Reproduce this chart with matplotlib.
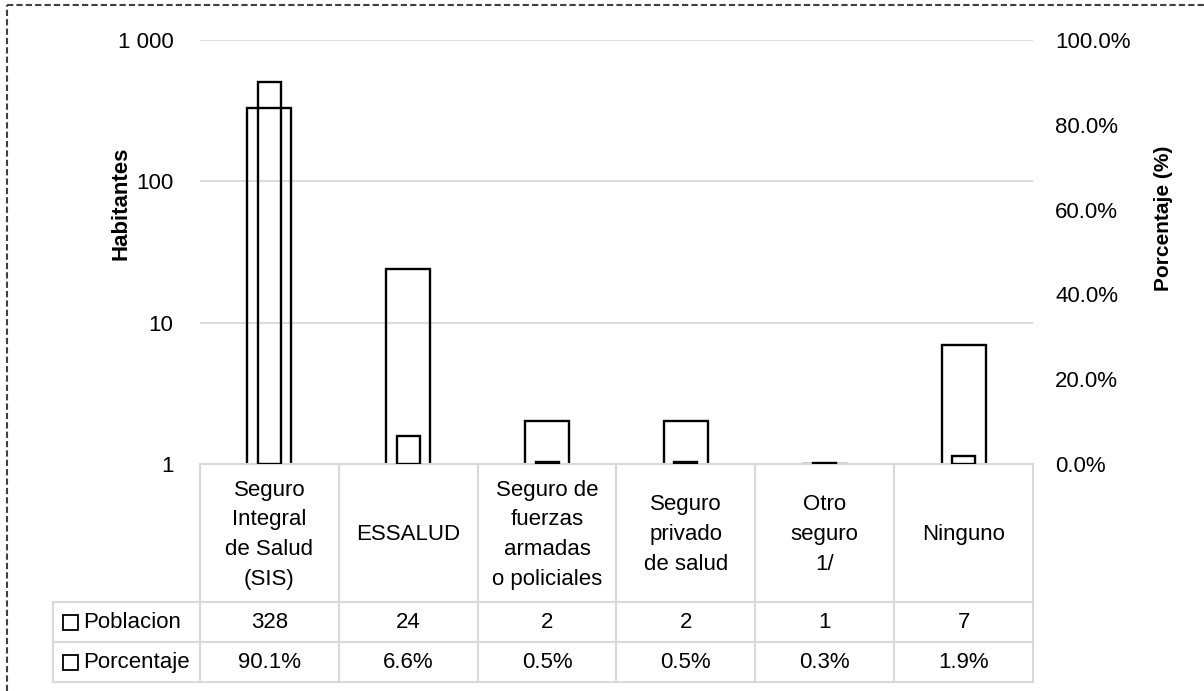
import matplotlib
matplotlib.use("Agg")
import matplotlib.pyplot as plt
import matplotlib.transforms as mtransforms
from matplotlib.patches import Rectangle
from matplotlib.lines import Line2D
import numpy as np

# data
categorias = ["Seguro\nIntegral\nde Salud\n(SIS)", "ESSALUD", "Seguro de\nfuerzas\narmadas\no policiales",
              "Seguro\nprivado\nde salud", "Otro\nseguro\n1/", "Ninguno"]
poblacion = [328, 24, 2, 2, 1, 7]
porcentaje = [0.901, 0.066, 0.005, 0.005, 0.003, 0.019]
series = ["Poblacion", "Porcentaje"]
left_ticks = [1, 10, 100, 1000]
left_labels = ["1", "10", "100", "1 000"]
right_ticks = [0, 0.2, 0.4, 0.6, 0.8, 1.0]

plt.rcParams['font.family'] = ['Liberation Sans Narrow', 'Liberation Sans', 'DejaVu Sans']
FS = 16
grid_c = '#d9d9d9'

fig = plt.figure(figsize=(12.04, 6.91), dpi=100)
W, H = 1204, 691
ax = fig.add_axes([200 / W, 1 - 464 / H, 833 / W, 424 / H])
ax2 = ax.twinx()

x = np.arange(len(categorias))
cw = 833 / len(categorias)  # px per category

ax.set_yscale('log')
ax.set_ylim(1, 1000)
ax.set_xlim(-0.5, len(categorias) - 0.5)
ax.set_yticks(left_ticks)
ax.set_yticklabels(left_labels)
ax.yaxis.set_minor_locator(matplotlib.ticker.NullLocator())
ax.grid(axis='y', color=grid_c, lw=1.3)
ax.set_axisbelow(True)
ax.tick_params(axis='y', length=0, pad=19, labelsize=FS)
ax.set_xticks([])
for s in ax.spines.values():
    s.set_visible(False)
for s in ax2.spines.values():
    s.set_visible(False)

ax.bar(x, poblacion, width=0.317, facecolor='none', edgecolor='black', lw=1.7)

ax2.set_ylim(0, 1)
ax2.set_yticks(right_ticks)
ax2.set_yticklabels(["%.1f%%" % (t * 100) for t in right_ticks])
ax2.tick_params(axis='y', length=0, pad=16, labelsize=FS)
ax2.bar(x, porcentaje, width=0.166, facecolor='none', edgecolor='black', lw=1.7)

ax.set_ylabel("Habitantes", fontsize=16, fontweight='bold')
ax.yaxis.set_label_coords((131 - 200) / 833, 0.615)
ax2.set_ylabel("Porcentaje (%)", fontsize=15, fontweight='bold')
ax2.yaxis.set_label_coords((1154 - 200) / 833, 0.58)

# data table under the plot
tr = mtransforms.blended_transform_factory(ax.transData, ax.transAxes)
rows_y = [0, -0.3255, -0.4198, -0.5142]
left_x = -0.5 + (53 - 200) / cw
lkw = dict(color=grid_c, lw=1.5, clip_on=False, transform=tr)
ax.plot([-0.5, x[-1] + 0.5], [0, 0], **lkw)
for yy in rows_y[1:]:
    ax.plot([left_x, x[-1] + 0.5], [yy, yy], **lkw)
for b in np.append(x - 0.5, x[-1] + 0.5):
    ax.plot([b, b], [0, rows_y[-1]], **lkw)
ax.plot([left_x, left_x], [rows_y[1], rows_y[-1]], **lkw)

for i, c in enumerate(categorias):
    ax.text(x[i], rows_y[1] / 2 - 0.004, c, transform=tr, ha='center', va='center',
            fontsize=FS, linespacing=1.55)
    ax.text(x[i], (rows_y[1] + rows_y[2]) / 2, "%d" % poblacion[i], transform=tr,
            ha='center', va='center', fontsize=FS)
    ax.text(x[i], (rows_y[2] + rows_y[3]) / 2, "%.1f%%" % (porcentaje[i] * 100), transform=tr,
            ha='center', va='center', fontsize=FS)

key_x = left_x + 10 / cw
kw = 15 / cw
kh = 15 / 424
for j, name in enumerate(series):
    yc = (rows_y[j + 1] + rows_y[j + 2]) / 2
    ax.add_patch(Rectangle((key_x, yc - kh / 2), kw, kh, facecolor='white', edgecolor='black',
                           lw=1.3, transform=tr, clip_on=False))
    ax.text(key_x + kw + 5 / cw, yc, name, transform=tr, ha='left', va='center', fontsize=FS)

# dashed frame
fig.add_artist(Line2D([7 / W, 1], [1 - 5 / H, 1 - 5 / H], color='#404040', lw=1.5,
                      ls=(0, (3, 1.5)), transform=fig.transFigure))
fig.add_artist(Line2D([7 / W, 7 / W], [0, 1 - 5 / H], color='#404040', lw=1.5,
                      ls=(0, (3, 1.5)), transform=fig.transFigure))

fig.savefig("out.png", dpi=100)
